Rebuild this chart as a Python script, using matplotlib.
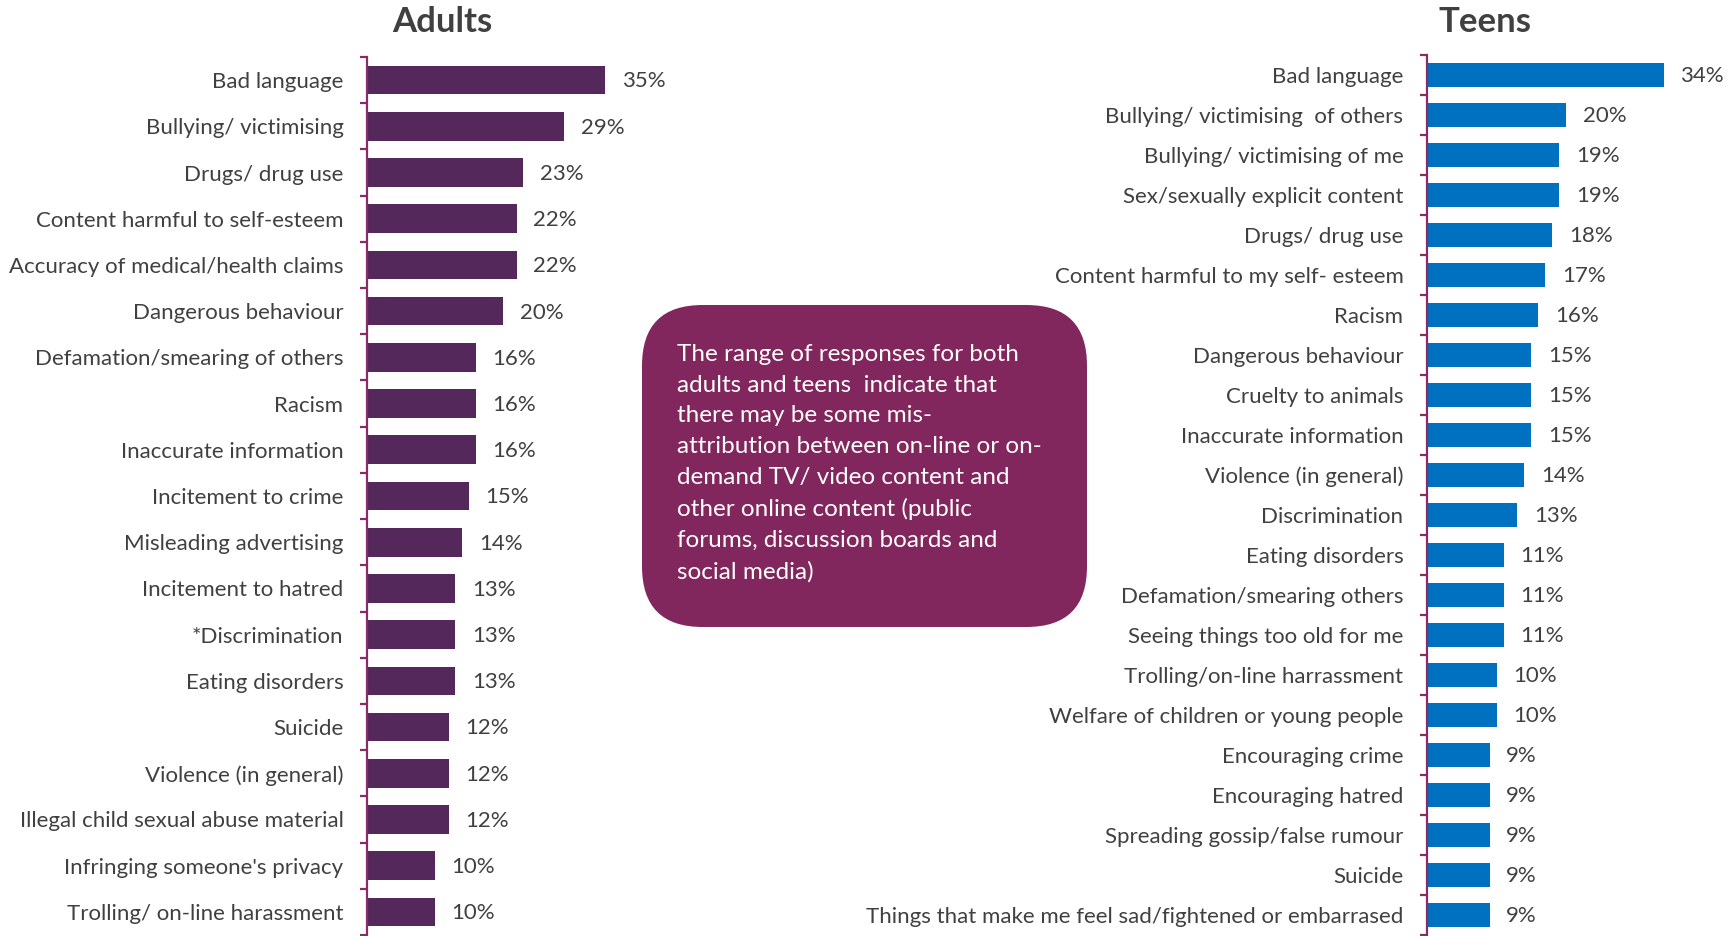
import matplotlib.pyplot as plt
import numpy as np
from matplotlib.patches import FancyBboxPatch

plt.rcParams['font.family'] = ['Lato', 'DejaVu Sans']

adults_labels = ["Bad language", "Bullying/ victimising", "Drugs/ drug use",
                 "Content harmful to self-esteem", "Accuracy of medical/health claims",
                 "Dangerous behaviour", "Defamation/smearing of others", "Racism",
                 "Inaccurate information", "Incitement to crime", "Misleading advertising",
                 "Incitement to hatred", "*Discrimination", "Eating disorders", "Suicide",
                 "Violence (in general)", "Illegal child sexual abuse material",
                 "Infringing someone's privacy", "Trolling/ on-line harassment"]
adults_values = [35, 29, 23, 22, 22, 20, 16, 16, 16, 15, 14, 13, 13, 13, 12, 12, 12, 10, 10]

teens_labels = ["Bad language", "Bullying/ victimising  of others", "Bullying/ victimising of me",
                "Sex/sexually explicit content", "Drugs/ drug use",
                "Content harmful to my self- esteem", "Racism", "Dangerous behaviour",
                "Cruelty to animals", "Inaccurate information", "Violence (in general)",
                "Discrimination", "Eating disorders", "Defamation/smearing others",
                "Seeing things too old for me", "Trolling/on-line harrassment",
                "Welfare of children or young people", "Encouraging crime",
                "Encouraging hatred", "Spreading gossip/false rumour", "Suicide",
                "Things that make me feel sad/fightened or embarrased"]
teens_values = [34, 20, 19, 19, 18, 17, 16, 15, 15, 15, 14, 13, 11, 11, 11, 10, 10, 9, 9, 9, 9, 9]

note = ("The range of responses for both\nadults and teens  indicate that\n"
        "there may be some mis-\nattribution between on-line or on-\n"
        "demand TV/ video content and\nother online content (public\n"
        "forums, discussion boards and\nsocial media)")

W, H = 1733, 936
TEXT = "#404040"
AXIS = "#8B2A6B"

fig = plt.figure(figsize=(W / 100, H / 100), dpi=100)


def panel(x0, top, bottom, px_per_pct, labels, values, color, title, title_x):
    xmax = 40
    ax = fig.add_axes([x0 / W, 1 - bottom / H, xmax * px_per_pct / W, (bottom - top) / H])
    n = len(labels)
    y = np.arange(n)
    ax.barh(y, values, height=0.62, color=color)
    ax.set_xlim(0, xmax)
    ax.set_ylim(n - 0.5, -0.5)
    for s in ["top", "right", "bottom"]:
        ax.spines[s].set_visible(False)
    ax.spines["left"].set_color(AXIS)
    ax.spines["left"].set_linewidth(1.6)
    ax.set_xticks([])
    ax.set_yticks(y)
    ax.set_yticklabels(labels, fontsize=16, color=TEXT)
    ax.tick_params(axis="y", which="major", length=0, pad=17)
    ax.set_yticks(np.arange(n + 1) - 0.5, minor=True)
    ax.tick_params(axis="y", which="minor", length=5, width=1.6, color=AXIS)
    for yi, v in zip(y, values):
        ax.annotate(f"{v}%", (v, yi), xytext=(12, -1), textcoords="offset points",
                    va="center", ha="left", fontsize=16, color=TEXT)
    fig.text(title_x / W, 1 - 22 / H, title, fontsize=25, fontweight="bold",
             color=TEXT, ha="center", va="center")
    return ax


panel(367, 57, 935, 6.8, adults_labels, adults_values, "#54285A", "Adults", 442)
panel(1427, 55, 935, 6.96, teens_labels, teens_values, "#0070C0", "Teens", 1485)

# rounded callout box in the middle
box = FancyBboxPatch((642 / W, 1 - 627 / H), (1087 - 642) / W, (627 - 305) / H,
                     boxstyle="round,pad=0,rounding_size=0.035",
                     transform=fig.transFigure, facecolor="#82265E", edgecolor="none",
                     mutation_aspect=W / H)
fig.patches.append(box)
fig.text(677 / W, 1 - 344 / H, note, fontsize=17.5, color="white", ha="left", va="top",
         linespacing=1.57)

plt.savefig("out.png", dpi=100)
